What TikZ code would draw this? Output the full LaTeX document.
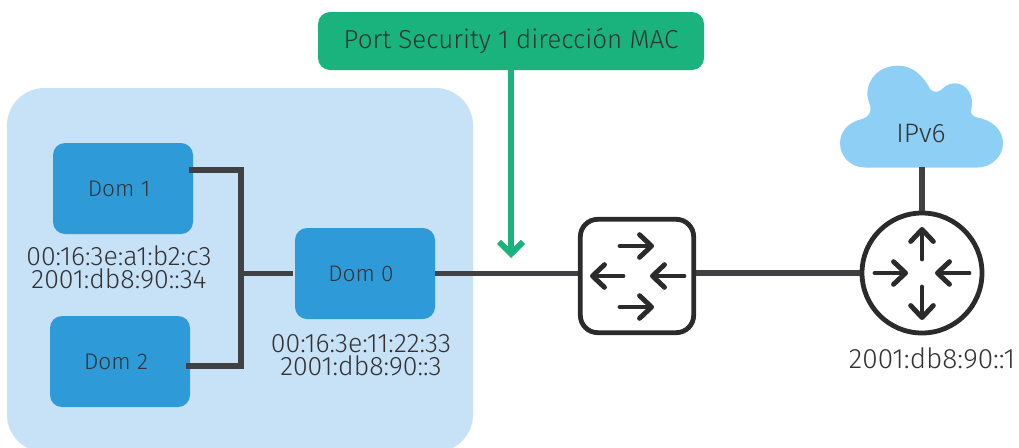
\documentclass[tikz,border=0pt]{standalone}
\usepackage{fontspec}
\setmainfont{Fira Sans Light}
\usetikzlibrary{arrows.meta}
\definecolor{areac}{HTML}{C7E1F6}
\definecolor{domc}{HTML}{2E9BD8}
\definecolor{cloudc}{HTML}{8DCFF5}
\definecolor{greenc}{HTML}{1AB27D}
\definecolor{linec}{HTML}{414042}
\definecolor{iconc}{HTML}{2B2B2B}
\definecolor{textc}{HTML}{333336}
\tikzset{
 x=0.75pt,y=-0.75pt,
 txt/.style={text=textc,font=\fontsize{20}{17.25}\selectfont,align=center,inner sep=0pt},
 dom/.style={fill=domc,rounded corners=9pt,minimum width=105pt,minimum height=68.25pt,inner sep=0pt,text=textc,font=\fontsize{17}{17}\selectfont},
 wire/.style={draw=linec,line width=4.1pt},
 barb/.style={draw=iconc,line width=3.7pt,line cap=round,line join=round},
}
\newcommand{\domlabel}[1]{#1\rule{6pt}{0pt}}
\begin{document}
\begin{tikzpicture}
\useasboundingbox (0,0) rectangle (1019,447);
\begin{scope}
\clip (0,0) rectangle (1019,447);
\fill[areac,rounded corners=28pt] (7,88) rectangle (473,452);
\end{scope}
% nodes
\node[dom] (dom1) at (123,188.5) {\domlabel{Dom 1}};
\node[dom] (dom2) at (120,361.5) {\domlabel{Dom 2}};
\node[dom] (dom0) at (365,273.5) {\domlabel{Dom 0}};
\node[txt] (l1) at (119,267.5) {00:16:3e:a1:b2:c3\\2001:db8:90::34};
\node[txt] (l0) at (361,355) {00:16:3e:11:22:33\\2001:db8:90::3};
\node[txt,font=\fontsize{21}{17.25}\selectfont] (l3) at (932,358) {2001:db8:90::1};
\node[fill=greenc,rounded corners=9pt,minimum width=289.5pt,minimum height=43.5pt,inner sep=0pt,text=textc,font=\fontsize{19.5}{17}\selectfont] (mac) at (511,41) {Port Security 1 dirección MAC};
% junctions
\coordinate (j1) at (241,170);
\coordinate (j2) at (241,366);
\coordinate (j0) at (241,273.5);
\coordinate (tip) at (511,258);
\coordinate (cb) at (922,167);
% cloud
\fill[cloudc] (865,167.5) -- (977,167.5)
 .. controls (991,167.5) and (1003,157) .. (1003,143)
 .. controls (1003,130) and (992,120) .. (977,117.5)
 .. controls (971,116) and (970,112) .. (971.5,108)
 .. controls (974,96) and (967,83.3) .. (955,83.3)
 .. controls (948,83.3) and (944,87) .. (941,90)
 .. controls (937,93) and (933,92) .. (930,89)
 .. controls (923,75) and (912,65.7) .. (898,65.7)
 .. controls (880,65.7) and (867,78) .. (867.3,95)
 .. controls (867.5,100) and (871,105) .. (870.5,110)
 .. controls (870,115) and (866,118) .. (862,119)
 .. controls (849,122) and (840,131) .. (840,143)
 .. controls (840,157) and (851,167.5) .. (865,167.5) -- cycle;
\node[txt] (cloud) at (921,134) {IPv6};
% switch, router
\node[draw=iconc,line width=3.6pt,fill=white,rounded corners=13pt,minimum width=85pt,minimum height=85pt,inner sep=0pt] (sw) at (637,276) {};
\node[draw=iconc,line width=3.6pt,fill=white,circle,minimum size=90pt,inner sep=0pt] (rt) at (922,273) {};
% connectors
\draw[wire] ([shift={(-4,-18.5)}]dom1.east) -- (j1) -- (j2) -- ([shift={(-4,4.5)}]dom2.east);
\draw[wire] (j0) -- ([xshift=-1.5pt]dom0.west);
\draw[wire] (dom0.east) -- (sw.west |- dom0.east);
\draw[wire] (sw.east |- rt.west) -- (rt.west);
\draw[wire] (rt.north) -- (cb);
\draw[greenc,line width=4.4pt,-{Straight Barb[length=9pt,width=18pt,line join=miter]}] (mac.south -| tip) -- (tip);
% switch arrows
\draw[barb,-{Straight Barb[length=9pt,width=17pt,round]}] (620,246) -- (654,246);
\draw[barb,-{Straight Barb[length=9pt,width=17pt,round]}] (620,307) -- (654,307);
\draw[barb,-{Straight Barb[length=9pt,width=17pt,round]}] (623,276) -- (590,276);
\draw[barb,-{Straight Barb[length=9pt,width=17pt,round]}] (684,276) -- (650,276);
% router arrows
\draw[barb,-{Straight Barb[length=9pt,width=17pt,round]}] (875,273) -- (908,273);
\draw[barb,-{Straight Barb[length=9pt,width=17pt,round]}] (969,273) -- (935,273);
\draw[barb,-{Straight Barb[length=9pt,width=17pt,round]}] (922,259) -- (922,227);
\draw[barb,-{Straight Barb[length=9pt,width=17pt,round]}] (922,287) -- (922,320);
\end{tikzpicture}
\end{document}
